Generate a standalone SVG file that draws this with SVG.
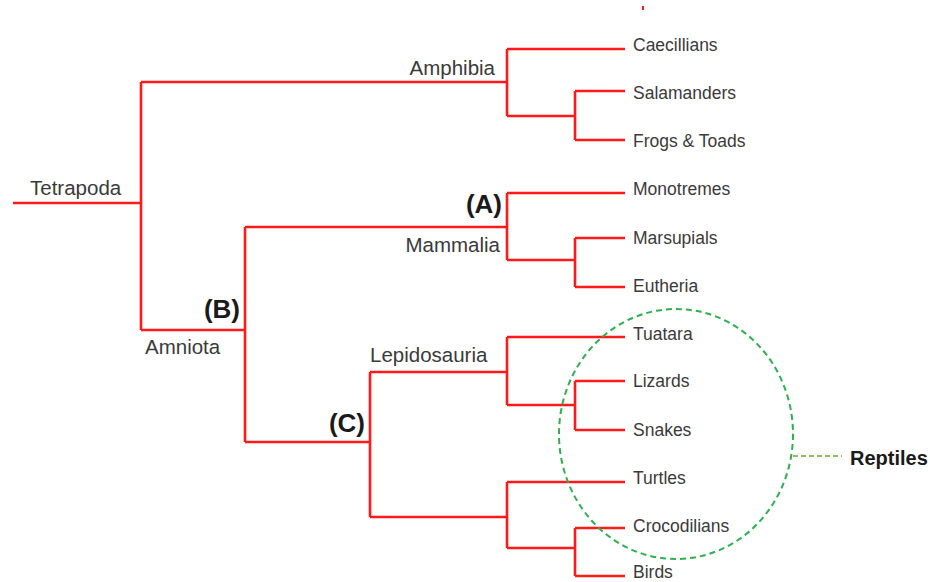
<svg xmlns="http://www.w3.org/2000/svg" width="930" height="582" viewBox="0 0 930 582">
<style>
.e{fill:none;stroke:#ff1a1a;stroke-width:2.6;stroke-linejoin:miter;stroke-linecap:butt}
.leaf{font-family:"Liberation Sans",Arial,sans-serif;font-size:17.5px;fill:#3a3a3a}
.clade{font-family:"Liberation Sans",Arial,sans-serif;font-size:20.5px;fill:#3a3a3a}
.mark{font-family:"Liberation Sans",Arial,sans-serif;font-size:26px;font-weight:bold;fill:#1a1a1a}
.rep{font-family:"Liberation Sans",Arial,sans-serif;font-size:20px;font-weight:bold;fill:#1a1a1a}
</style>
<rect width="930" height="582" fill="#ffffff"/>
<g id="connectors">
<path class="e" d="M13 203H141M141 82V330M141 82H507M141 330H245"/>
<path class="e" d="M507 49V116M507 49H625M507 116H575M575 91V140M575 91H625M575 140H625"/>
<path class="e" d="M245 227V442M245 227H507M507 193V260M507 193H625M507 260H575M575 238V287M575 238H625M575 287H625"/>
<path class="e" d="M245 442H370M370 372V517M370 372H507M507 337V405M507 337H625M507 405H575M575 381V430M575 381H625M575 430H625"/>
<path class="e" d="M370 517H507M507 482V548M507 482H625M507 548H575M575 528V576M575 528H625M575 576H625"/>
<path d="M643 6V10" stroke="#ff1a1a" stroke-width="2"/>
<path d="M793 456H842" stroke="#8cc063" stroke-width="2" stroke-dasharray="5 3" fill="none"/>
</g>
<g id="tetrapoda"><text class="clade" x="30" y="195">Tetrapoda</text></g>
<g id="amphibia"><text class="clade" x="495" y="75" text-anchor="end">Amphibia</text></g>
<g id="amniota"><text class="clade" x="145" y="354">Amniota</text><text class="mark" x="240" y="318" text-anchor="end">(B)</text></g>
<g id="mammalia"><text class="clade" x="500" y="252" text-anchor="end">Mammalia</text><text class="mark" x="502" y="213" text-anchor="end">(A)</text></g>
<g id="sauria"><text class="mark" x="365" y="432" text-anchor="end">(C)</text></g>
<g id="lepidosauria"><text class="clade" x="370" y="362">Lepidosauria</text></g>
<g id="caecillians"><text class="leaf" x="633" y="51">Caecillians</text></g>
<g id="salamanders"><text class="leaf" x="633" y="99">Salamanders</text></g>
<g id="frogs"><text class="leaf" x="633" y="147">Frogs &amp; Toads</text></g>
<g id="monotremes"><text class="leaf" x="633" y="195">Monotremes</text></g>
<g id="marsupials"><text class="leaf" x="633" y="244">Marsupials</text></g>
<g id="eutheria"><text class="leaf" x="633" y="292">Eutheria</text></g>
<g id="tuatara"><text class="leaf" x="633" y="340">Tuatara</text></g>
<g id="lizards"><text class="leaf" x="633" y="387">Lizards</text></g>
<g id="snakes"><text class="leaf" x="633" y="436">Snakes</text></g>
<g id="turtles"><text class="leaf" x="633" y="484">Turtles</text></g>
<g id="crocodilians"><text class="leaf" x="633" y="532">Crocodilians</text></g>
<g id="birds"><text class="leaf" x="633" y="578">Birds</text></g>
<g id="reptiles">
<ellipse cx="676" cy="434" rx="117" ry="125" fill="none" stroke="#2fb04e" stroke-width="2" stroke-dasharray="6 4"/>
<text class="rep" x="850" y="465">Reptiles</text>
</g>
</svg>
